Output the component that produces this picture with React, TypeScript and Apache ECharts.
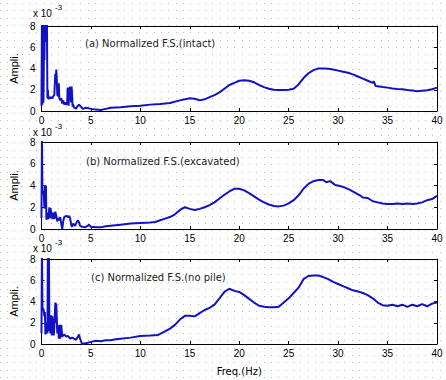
import React, { useEffect, useRef } from "react";
import * as echarts from "echarts";

// Frequency (Hz), amplitude (x 10^-3)
const intactSpectrum: number[][] = [
  [0, 0.5], [0.05, 9], [0.1, 0.6], [0.15, 9], [0.2, 0.8], [0.25, 5.8], [0.3, 4.8], [0.35, 9], [0.4, 6.5], [0.45, 9], [0.55, 9], [0.6, 1.2], [0.65, 2.0], [0.7, 1.1], [0.8, 1.3], [0.9, 1.2], [1.0, 1.3], [1.1, 1.2], [1.2, 1.4], [1.3, 1.5], [1.4, 3.5], [1.45, 2.8], [1.5, 3.9], [1.55, 3.0], [1.6, 1.5], [1.7, 1.4], [1.75, 2.6], [1.8, 1.3], [1.9, 1.0], [2.0, 1.2], [2.1, 0.7], [2.2, 1.0], [2.3, 0.6], [2.4, 0.8], [2.5, 0.6], [2.6, 0.7], [2.65, 2.2], [2.7, 1.2], [2.75, 0.5], [2.8, 2.2], [2.85, 1.0], [2.9, 2.3], [3.0, 0.8], [3.05, 2.3], [3.1, 1.5], [3.15, 0.4], [3.2, 0.6], [3.3, 0.3], [3.4, 0.3], [3.5, 0.2], [3.6, 0.4], [3.8, 0.6], [4.0, 0.4], [4.2, 0.2], [4.5, 0.3], [5, 0.2], [5.5, 0.15], [6, 0.1], [6.5, 0.2], [7, 0.3], [8, 0.35], [9, 0.45], [10, 0.5], [11, 0.6], [12, 0.65], [13, 0.75], [14, 1.0], [15, 1.2], [15.5, 1.15], [16, 1.0], [16.5, 1.1], [17, 1.3], [17.5, 1.5], [18, 1.75], [18.5, 2.1], [19, 2.45], [19.5, 2.65], [20, 2.85], [20.5, 2.9], [21, 2.85], [21.5, 2.7], [22, 2.45], [22.5, 2.25], [23, 2.1], [23.5, 2.0], [24, 1.97], [24.5, 1.97], [25, 2.0], [25.5, 2.1], [26, 2.5], [26.5, 3.1], [27, 3.55], [27.5, 3.85], [28, 4.0], [28.5, 4.0], [29, 3.97], [29.5, 3.9], [30, 3.8], [30.5, 3.7], [31, 3.6], [31.5, 3.45], [32, 3.25], [32.5, 3.05], [33, 2.85], [33.5, 2.65], [33.6, 2.8], [33.8, 2.35], [34.5, 2.25], [35, 2.2], [35.5, 2.12], [36, 2.08], [36.5, 2.05], [37, 1.97], [37.5, 1.92], [38, 1.85], [38.5, 1.9], [39, 1.95], [39.5, 2.05], [40, 2.2],
];

const excavatedSpectrum: number[][] = [
  [0, 1.0], [0.05, 8.5], [0.1, 3.5], [0.15, 3.3], [0.2, 3.5], [0.25, 3.0], [0.3, 1.9], [0.35, 4.0], [0.4, 3.8], [0.45, 4.0], [0.5, 0.85], [0.6, 1.5], [0.7, 0.9], [0.8, 2.0], [0.85, 1.0], [0.9, 1.9], [1.0, 1.5], [1.1, 0.9], [1.2, 1.5], [1.3, 0.9], [1.4, 1.6], [1.5, 1.2], [1.6, 0.7], [1.7, 1.0], [1.8, 0.8], [1.9, 1.1], [2.0, 0.5], [2.1, 0.0], [2.2, 0.7], [2.3, 1.1], [2.5, 1.2], [2.7, 1.1], [2.8, 1.2], [2.9, 1.0], [3.0, 0.4], [3.1, 0.2], [3.2, 0.5], [3.4, 0.3], [3.6, 0.7], [3.7, 0.8], [3.8, 0.6], [3.9, 0.3], [4.1, 0.2], [4.4, 0.15], [4.7, 0.3], [4.8, 0.4], [5.0, 0.2], [5.5, 0.15], [6, 0.15], [6.5, 0.25], [7, 0.3], [8, 0.4], [9, 0.5], [10, 0.55], [11, 0.6], [11.5, 0.65], [12, 0.8], [12.5, 0.95], [13, 1.1], [13.5, 1.35], [14, 1.75], [14.5, 2.0], [15, 1.85], [15.5, 1.75], [16, 1.85], [16.5, 2.0], [17, 2.2], [17.5, 2.45], [18, 2.8], [18.5, 3.15], [19, 3.45], [19.5, 3.7], [20, 3.7], [20.5, 3.55], [21, 3.3], [21.5, 3.0], [22, 2.7], [22.5, 2.45], [23, 2.25], [23.5, 2.12], [24, 2.08], [24.5, 2.15], [25, 2.35], [25.5, 2.65], [26, 3.1], [26.5, 3.7], [27, 4.15], [27.5, 4.4], [28, 4.5], [28.5, 4.5], [28.8, 4.3], [29.2, 4.4], [29.7, 4.05], [30.2, 3.95], [30.7, 3.8], [31.2, 3.6], [31.7, 3.35], [32.2, 3.1], [32.5, 2.9], [33, 2.85], [33.5, 2.55], [34, 2.45], [34.5, 2.35], [35, 2.3], [35.5, 2.3], [36, 2.35], [36.5, 2.3], [37, 2.35], [37.5, 2.3], [38, 2.35], [38.5, 2.45], [39, 2.65], [39.5, 2.75], [40, 3.05],
];

const noPileSpectrum: number[][] = [
  [0, 1.0], [0.05, 9], [0.1, 3.4], [0.2, 3.3], [0.3, 2.6], [0.35, 3.0], [0.4, 0.9], [0.5, 2.0], [0.6, 1.0], [0.65, 9], [0.75, 9], [0.8, 1.2], [0.85, 2.7], [0.9, 1.0], [1.0, 2.7], [1.05, 0.8], [1.1, 2.6], [1.2, 1.5], [1.25, 0.8], [1.3, 1.6], [1.4, 3.9], [1.45, 2.0], [1.5, 3.8], [1.6, 1.0], [1.7, 1.7], [1.75, 0.5], [1.8, 1.8], [1.9, 0.5], [2.0, 1.8], [2.1, 0.7], [2.3, 0.9], [2.5, 0.7], [2.7, 0.75], [2.9, 0.5], [3.1, 0.6], [3.3, 0.5], [3.5, 0.4], [3.7, 0.7], [3.8, 0.9], [3.9, 0.5], [4.1, 0.0], [4.3, 0.05], [4.6, 0.1], [5, 0.2], [5.5, 0.3], [6, 0.25], [6.5, 0.35], [7, 0.35], [7.5, 0.45], [8, 0.5], [9, 0.6], [10, 0.75], [11, 0.8], [11.8, 0.85], [12.3, 1.1], [13, 1.45], [13.5, 1.8], [14, 2.3], [14.5, 2.65], [15, 2.65], [15.5, 2.6], [16, 2.9], [16.5, 3.2], [17, 3.4], [17.5, 3.7], [18, 4.3], [18.5, 4.9], [19, 5.2], [19.5, 5.0], [20, 4.9], [20.5, 4.6], [21, 4.25], [21.5, 3.9], [22, 3.6], [22.5, 3.5], [23, 3.45], [23.5, 3.45], [24, 3.5], [24.5, 3.9], [25, 4.3], [25.5, 4.8], [26, 5.3], [26.5, 6.1], [27, 6.4], [27.5, 6.45], [28, 6.45], [28.5, 6.3], [29, 6.1], [29.5, 5.85], [30, 5.65], [30.5, 5.45], [31, 5.25], [31.5, 5.05], [32, 4.95], [32.5, 4.8], [33, 4.6], [33.5, 4.3], [34, 3.9], [34.5, 3.65], [35, 3.6], [35.5, 3.7], [36, 3.55], [36.5, 3.7], [37, 3.5], [37.5, 3.7], [38, 3.55], [38.5, 3.75], [39, 3.55], [39.5, 3.8], [40, 3.9],
];

const panelTitles = [
  "(a) Normalized F.S.(intact)",
  "(b) Normalized F.S.(excavated)",
  "(c) Normalized F.S.(no pile)",
];
const spectra = [intactSpectrum, excavatedSpectrum, noPileSpectrum];
const yLabel = "Ampli.";
const xLabel = "Freq.(Hz)";
const scaleText = "x 10";
const scaleExp = "-3";

const FONT = '"Liberation Sans", Arial, sans-serif';
const TITLE_FONT = '"DejaVu Sans", sans-serif';

export default function App() {
  const ref = useRef<HTMLDivElement>(null);

  useEffect(() => {
    const el = ref.current!;
    document.body.style.margin = "0";
    // dotted background
    const c = document.createElement("canvas");
    c.width = 22;
    c.height = 22;
    const ctx = c.getContext("2d")!;
    ctx.fillStyle = "#ffffff";
    ctx.fillRect(0, 0, 22, 22);
    ctx.fillStyle = "#bcbcbc";
    for (const yy of [3, 10, 18]) for (const xx of [0, 7, 14]) ctx.fillRect(xx, yy, 1, 1);
    el.style.backgroundImage = `url(${c.toDataURL()})`;
    el.style.backgroundRepeat = "repeat";

    const chart = echarts.init(el, undefined, { renderer: "svg" });

    const grids = [
      { left: 29, top: 26, width: 408, height: 85 },
      { left: 29, top: 142, width: 408, height: 87 },
      { left: 29, top: 259, width: 408, height: 85 },
    ];
    const titlePos = [
      { x: 85, y: 43 },
      { x: 86, y: 161 },
      { x: 91, y: 277 },
    ];
    const scalePos = [13, 132, 248];

    const xAxes: any[] = [];
    const yAxes: any[] = [];
    const series: any[] = [];
    const graphics: any[] = [];
    const axisLine = { show: true, onZero: false, lineStyle: { color: "#000", width: 1 } };
    grids.forEach((g, i) => {
      const base = {
        type: "value",
        gridIndex: i,
        min: 0,
        max: 40,
        interval: 5,
        axisLine,
        splitLine: { show: false },
        axisTick: { show: true, inside: true, length: 3, lineStyle: { color: "#000" } },
      };
      xAxes.push({
        ...base,
        position: "bottom",
        axisLabel: { show: true, color: "#000", fontSize: 10, fontFamily: FONT, margin: 4 },
        name: i === 2 ? xLabel : "",
        nameLocation: "middle",
        nameGap: 22,
        nameTextStyle: { color: "#000", fontSize: 10, fontFamily: TITLE_FONT },
      });
      xAxes.push({ ...base, position: "top", axisLabel: { show: false } });
      const ybase = {
        type: "value",
        gridIndex: i,
        min: 0,
        max: 8,
        interval: 2,
        axisLine,
        splitLine: { show: false },
        axisTick: { show: true, inside: true, length: 3, lineStyle: { color: "#000" } },
      };
      yAxes.push({
        ...ybase,
        position: "left",
        axisLabel: { show: true, color: "#000", fontSize: 10, fontFamily: FONT, margin: 6 },
        name: yLabel,
        nameLocation: "middle",
        nameGap: 17,
        nameRotate: 90,
        nameTextStyle: { color: "#000", fontSize: 11, fontFamily: FONT },
      });
      yAxes.push({ ...ybase, position: "right", axisLabel: { show: false } });
      series.push({
        type: "line",
        xAxisIndex: i * 2,
        yAxisIndex: i * 2,
        data: spectra[i],
        showSymbol: false,
        clip: true,
        lineStyle: { color: "#1212c4", width: 2 },
      });
      graphics.push({
        type: "text",
        x: titlePos[i].x,
        y: titlePos[i].y,
        style: {
          text: panelTitles[i],
          font: `10px ${TITLE_FONT}`,
          fill: "#222",
          verticalAlign: "middle",
          textAlign: "left",
        },
      });
      graphics.push({
        type: "text",
        x: 33,
        y: scalePos[i],
        style: {
          text: scaleText,
          font: `10px ${FONT}`,
          fill: "#000",
          verticalAlign: "middle",
        },
      });
      graphics.push({
        type: "text",
        x: 55,
        y: scalePos[i] - 6,
        style: {
          text: scaleExp,
          font: `8px ${FONT}`,
          fill: "#000",
          verticalAlign: "middle",
        },
      });
    });

    chart.setOption({
      animation: false,
      backgroundColor: "transparent",
      grid: grids,
      xAxis: xAxes,
      yAxis: yAxes,
      series,
      graphic: graphics,
    });
    return () => chart.dispose();
  }, []);

  return (
    <div
      ref={ref}
      style={{ position: "absolute", left: 0, top: 0, width: 446, height: 380 }}
    />
  );
}
